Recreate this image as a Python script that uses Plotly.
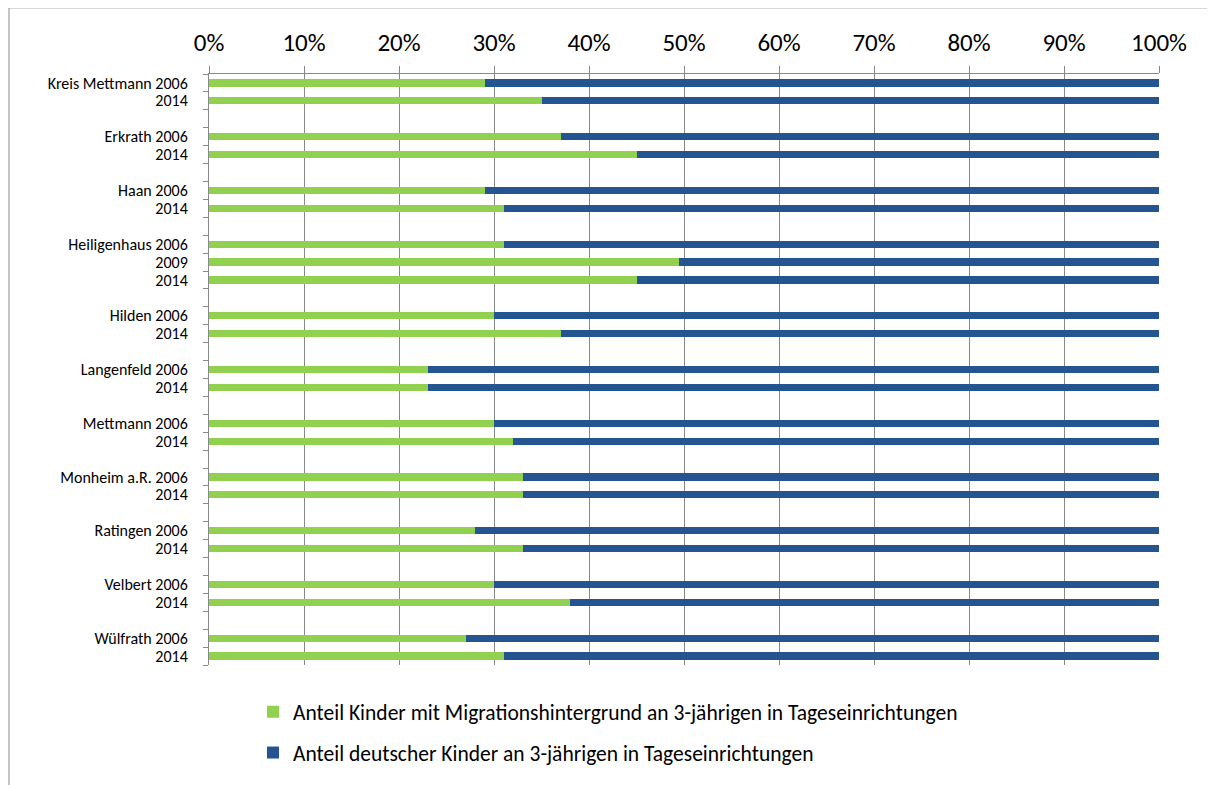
import plotly.graph_objects as go

labels = [
    "Kreis Mettmann 2006", "2014", "",
    "Erkrath 2006", "2014", "",
    "Haan 2006", "2014", "",
    "Heiligenhaus 2006", "2009", "2014", "",
    "Hilden 2006", "2014", "",
    "Langenfeld 2006", "2014", "",
    "Mettmann 2006", "2014", "",
    "Monheim a.R. 2006", "2014", "",
    "Ratingen 2006", "2014", "",
    "Velbert 2006", "2014", "",
    "Wülfrath 2006", "2014",
]

migration = [
    29, 35, None,
    37, 45, None,
    29, 31, None,
    31, 49.5, 45, None,
    30, 37, None,
    23, 23, None,
    30, 32, None,
    33, 33, None,
    28, 33, None,
    30, 38, None,
    27, 31,
]

deutsch = [
    71, 65, None,
    63, 55, None,
    71, 69, None,
    69, 50.5, 55, None,
    70, 63, None,
    77, 77, None,
    70, 68, None,
    67, 67, None,
    72, 67, None,
    70, 62, None,
    73, 69,
]

name_mig = "Anteil Kinder mit Migrationshintergrund an 3-jährigen in Tageseinrichtungen"
name_de = "Anteil deutscher Kinder an 3-jährigen in Tageseinrichtungen"

rows = list(range(len(labels)))
green = "#92D050"
blue = "#245590"
grey = "#898989"
font = "Carlito, Calibri, Lato, sans-serif"

fig = go.Figure()
fig.add_trace(go.Bar(
    y=rows, x=[v / 100 if v is not None else None for v in migration],
    orientation="h", name=name_mig, marker=dict(color=green, line=dict(width=0)),
    width=0.4, legend="legend",
))
fig.add_trace(go.Bar(
    y=rows, x=[v / 100 if v is not None else None for v in deutsch],
    orientation="h", name=name_de, marker=dict(color=blue, line=dict(width=0)),
    width=0.4, legend="legend2",
))

tickvals = [i for i, t in enumerate(labels) if t]
ticktext = [t for t in labels if t]
boundaries = [i - 0.5 for i in range(len(labels) + 1)]

# page has an 8px body margin; work in figure coordinates
OFF = 8
W, H = 1215 - OFF, 785 - OFF
L, R, T, B = 209 - OFF, 1159 - OFF, 74 - OFF, 668 - OFF
pw, ph = R - L, B - T

legend_common = dict(
    orientation="v", x=(253 - OFF - L) / pw, xanchor="left", yanchor="middle",
    font=dict(size=21.5, family=font), bgcolor="rgba(0,0,0,0)",
    borderwidth=0,
)

fig.update_layout(
    width=W, height=H,
    margin=dict(l=L, r=W - R, t=T, b=H - B, pad=0),
    barmode="stack",
    plot_bgcolor="white", paper_bgcolor="white",
    font=dict(family=font, color="#000000"),
    xaxis=dict(
        side="top", range=[0, 1], tickformat=".0%", dtick=0.1, tick0=0,
        showgrid=True, gridcolor=grey, gridwidth=1,
        showline=True, linecolor=grey, linewidth=1,
        ticks="outside", ticklen=7, tickcolor=grey, tickwidth=1,
        tickfont=dict(size=25, family=font), ticklabelstandoff=5,
        zeroline=False,
    ),
    yaxis=dict(
        range=[len(labels) - 0.5, -0.5],
        tickmode="array", tickvals=tickvals, ticktext=ticktext,
        ticks="", showgrid=False, zeroline=False,
        showline=True, linecolor=grey, linewidth=1,
        tickfont=dict(size=16, family=font), ticklabelstandoff=17,
        minor=dict(tickmode="array", tickvals=boundaries, ticks="outside",
                   ticklen=5, tickcolor=grey, tickwidth=1, showgrid=False),
    ),
    legend=dict(legend_common, y=(B - (715 - OFF)) / ph),
    legend2=dict(legend_common, y=(B - (756 - OFF)) / ph),
    showlegend=True,
    shapes=[dict(
        type="rect", xref="paper", yref="paper",
        x0=(9 - OFF - L) / pw, x1=(1230 - L) / pw,
        y0=(B - 800) / ph, y1=1 + (T - (7.5 - OFF)) / ph,
        line=dict(color=grey, width=1), fillcolor="rgba(0,0,0,0)", layer="below",
    )],
)

fig.write_html("out.html")
